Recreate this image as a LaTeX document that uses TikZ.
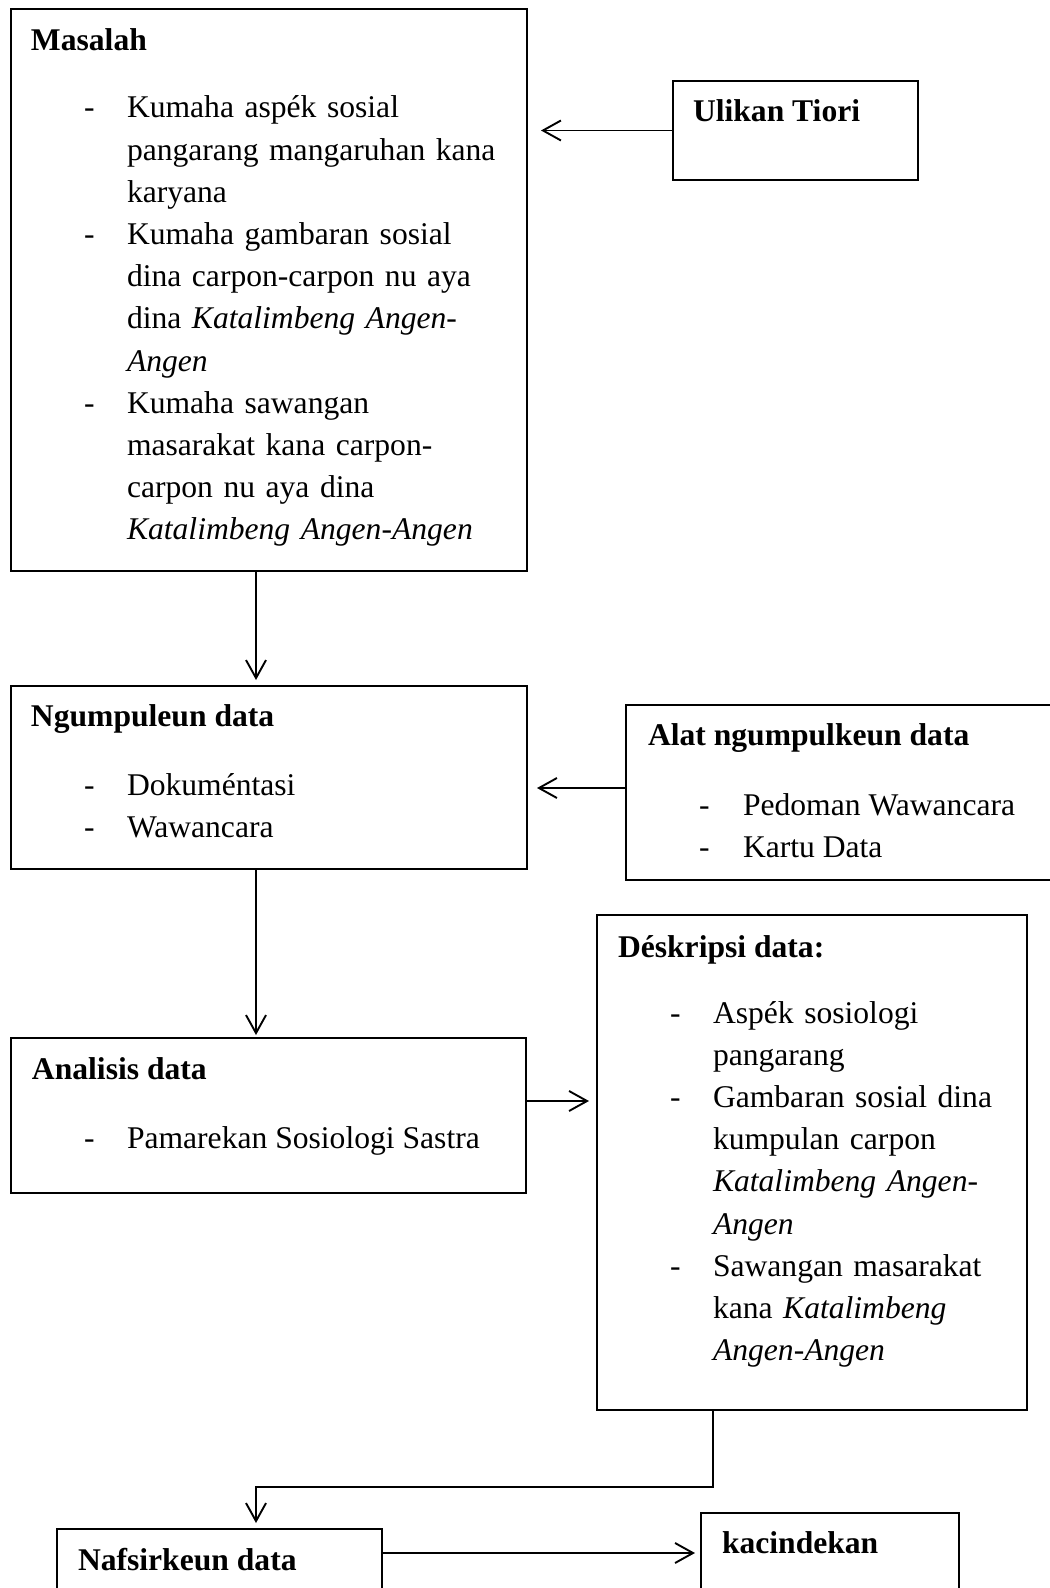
\documentclass[tikz,border=0pt]{standalone}
\usepackage{fontspec}
\setmainfont{Liberation Serif}
\usetikzlibrary{arrows.meta}
\newcommand\fs{\fontsize{15.8pt}{21.1pt}\selectfont}
\begin{document}
\begin{tikzpicture}[x=0.5pt, y=-0.5pt,
  box/.style={draw, line width=0.6pt, inner sep=0pt, outer sep=0pt, anchor=north west},
  arr/.style={line width=0.95pt, -{Straight Barb[length=9pt,width=10pt]}},
  txt/.style={inner sep=0pt, outer sep=0pt, anchor=base west, font=\fs},
  ttl/.style={txt, font=\fs\bfseries},
  lst/.style={txt, text width=240pt, align=left}]
\useasboundingbox (0,0) rectangle (1049,1588);
\fill[white] (0,0) rectangle (1049,1588);

% Masalah
\node[box, minimum width=258pt, minimum height=281pt] (masalah) at (11,9) {};
\node[ttl] (tmas) at (31,51) {Masalah};
\node[txt] (dm1) at (84,118) {-};
\node[lst] (m1) at (127,118) {Kumaha aspék sosial\\ pangarang mangaruhan kana\\ karyana};
\node[txt] (dm2) at (84,244.6) {-};
\node[lst] (m2) at (127,244.6) {Kumaha gambaran sosial\\ dina carpon-carpon nu aya\\ dina \textit{Katalimbeng Angen-}\\ \textit{Angen}};
\node[txt] (dm3) at (84,413.4) {-};
\node[lst] (m3) at (127,413.4) {Kumaha sawangan\\ masarakat kana carpon-\\ carpon nu aya dina\\ \textit{Katalimbeng Angen-Angen}};

% Ulikan Tiori
\node[box, minimum width=122.5pt, minimum height=49.5pt] (ulikan) at (673,81) {};
\node[ttl] (tul) at (693,122) {Ulikan Tiori};

% Ngumpuleun data
\node[box, minimum width=258pt, minimum height=91.5pt] (ngump) at (11,686) {};
\node[ttl] (tng) at (31,726) {Ngumpuleun data};
\node[txt] (dn1) at (84,795) {-};
\node[txt] (n1) at (127,795) {Dokuméntasi};
\node[txt] (dn2) at (84,837) {-};
\node[txt] (n2) at (127,837) {Wawancara};

% Alat ngumpulkeun data
\node[box, minimum width=213pt, minimum height=87.5pt] (alat) at (626,705) {};
\node[ttl] (tal) at (648,745) {Alat ngumpulkeun data};
\node[txt] (da1) at (699,815) {-};
\node[txt] (al1) at (743,815) {Pedoman Wawancara};
\node[txt] (da2) at (699,857) {-};
\node[txt] (al2) at (743,857) {Kartu Data};

% Analisis data
\node[box, minimum width=257.5pt, minimum height=77.5pt] (analisis) at (11,1038) {};
\node[ttl] (tan) at (32,1079) {Analisis data};
\node[txt] (dan) at (84,1148) {-};
\node[txt] (an1) at (127,1148) {Pamarekan Sosiologi Sastra};

% Deskripsi data
\node[box, minimum width=215pt, minimum height=247.5pt] (deskripsi) at (597,915) {};
\node[ttl] (tde) at (618,957) {Déskripsi data:};
\node[txt] (dd1) at (670,1023) {-};
\node[lst] (de1) at (713,1023) {Aspék sosiologi\\ pangarang};
\node[txt] (dd2) at (670,1107.4) {-};
\node[lst] (de2) at (713,1107.4) {Gambaran sosial dina\\ kumpulan carpon\\ \textit{Katalimbeng Angen-}\\ \textit{Angen}};
\node[txt] (dd3) at (670,1276.2) {-};
\node[lst] (de3) at (713,1276.2) {Sawangan masarakat\\ kana \textit{Katalimbeng}\\ \textit{Angen-Angen}};

% Nafsirkeun data
\node[box, minimum width=162.5pt, minimum height=35.5pt] (nafs) at (57,1529) {};
\node[ttl] (tnf) at (78,1570) {Nafsirkeun data};

% kacindekan
\node[box, minimum width=129pt, minimum height=43.5pt] (kac) at (701,1513) {};
\node[ttl] (tkc) at (722,1553) {kacindekan};

% connectors
\draw[arr, shorten >=7pt] (ulikan.west) -- (ulikan.west -| masalah.east);

\coordinate (a1) at ([xshift=-6.5pt]masalah.south);
\draw[arr, shorten >=3pt] (a1) -- (a1 |- ngump.north);

\coordinate (a2) at ([yshift=2.25pt]alat.west);
\draw[arr, shorten >=5pt] (a2) -- (a2 -| ngump.east);

\coordinate (a3) at ([xshift=-6.5pt]ngump.south);
\draw[arr, shorten >=1.5pt] (a3) -- (a3 |- analisis.north);

\coordinate (a4) at ([yshift=7.25pt]analisis.east);
\draw[arr, shorten >=4pt] (a4) -- (a4 -| deskripsi.west);

\coordinate (a5) at ([xshift=-49.5pt]deskripsi.south);
\coordinate (a6) at ([xshift=18.25pt]nafs.north);
\draw[arr, shorten >=3pt] (a5) -- ++(0,77) -| (a6);

\coordinate (a7) at ([yshift=-12pt]nafs.north east);
\draw[arr, shorten >=3pt] (a7) -- (a7 -| kac.west);
\end{tikzpicture}
\end{document}
